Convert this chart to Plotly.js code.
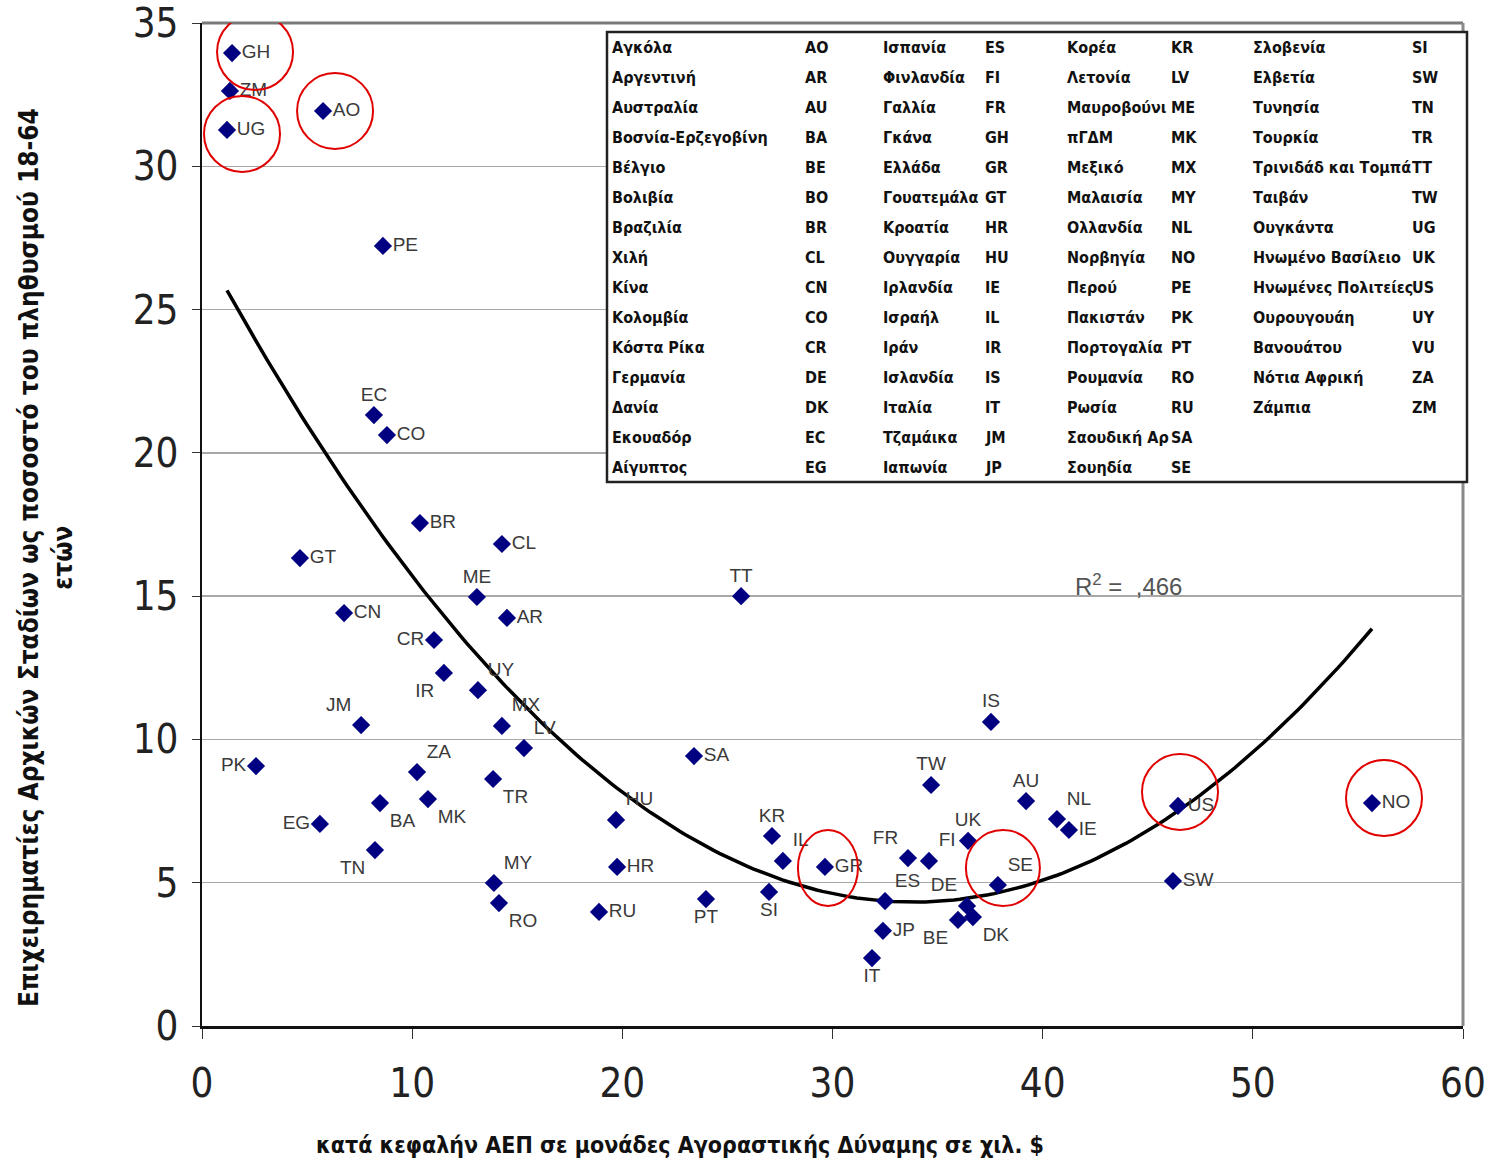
<!DOCTYPE html>
<html>
<head>
<meta charset="utf-8">
<script src="https://cdn.plot.ly/plotly-3.0.1.min.js"></script>
<style>html,body{margin:0;padding:0;background:#fff}#chart{width:1493px;height:1160px}</style>
</head>
<body>
<div id="chart"></div>
<script>
// ---------------- DATA ----------------
const countryCodes = ['GH','ZM','UG','AO','PE','EC','CO','BR','CL','GT','ME','CN','AR','CR','IR','UY','MX','LV','JM','PK','ZA','MK','TR','BA','EG','TN','MY','RO','HU','HR','RU','SA','TT','PT','KR','IL','SI','GR','ES','JP','IT','FR','FI','TW','UK','DE','BE','DK','IS','SE','AU','NL','IE','US','SW','NO'];
const gdpPerCapita = [1.43,1.33,1.19,5.76,8.61,8.18,8.80,10.37,14.27,4.66,13.08,6.76,14.51,11.04,11.51,13.13,14.27,15.32,7.57,2.57,10.23,10.75,13.85,8.47,5.61,8.23,13.89,14.13,19.70,19.75,18.89,23.41,25.65,23.98,27.12,27.64,26.98,29.64,32.50,32.40,31.88,33.59,34.59,34.69,36.45,36.40,35.97,36.68,37.54,37.87,39.21,40.68,41.25,46.44,46.20,55.67];
const earlyStageRate = [33.95,32.63,31.27,31.93,27.22,21.32,20.62,17.55,16.82,16.33,14.97,14.41,14.24,13.47,12.32,11.72,10.47,9.70,10.50,9.07,8.86,7.92,8.62,7.78,7.05,6.14,4.99,4.29,7.19,5.55,3.98,9.42,15.00,4.43,6.63,5.76,4.68,5.55,4.36,3.32,2.37,5.86,5.76,8.41,6.46,4.19,3.70,3.80,10.61,4.92,7.85,7.22,6.84,7.68,5.06,7.78];
const highlightedCodes = ['GH','UG','AO','GR','SE','US','NO'];
// quadratic trend y = a + b*x + c*x^2, coefficients
const trendCoefficients = [27.25, -1.355, 0.02002];
const xTickValues = [0,10,20,30,40,50,60];
const yTickValues = [0,5,10,15,20,25,30,35];
const tableNames = [
 'Αγκόλα','Αργεντινή','Αυστραλία','Βοσνία-Ερζεγοβίνη','Βέλγιο','Βολιβία','Βραζιλία','Χιλή','Κίνα','Κολομβία','Κόστα Ρίκα','Γερμανία','Δανία','Εκουαδόρ','Αίγυπτος',
 'Ισπανία','Φινλανδία','Γαλλία','Γκάνα','Ελλάδα','Γουατεμάλα','Κροατία','Ουγγαρία','Ιρλανδία','Ισραήλ','Ιράν','Ισλανδία','Ιταλία','Τζαμάικα','Ιαπωνία',
 'Κορέα','Λετονία','Μαυροβούνι','πΓΔΜ','Μεξικό','Μαλαισία','Ολλανδία','Νορβηγία','Περού','Πακιστάν','Πορτογαλία','Ρουμανία','Ρωσία','Σαουδική Αρ','Σουηδία',
 'Σλοβενία','Ελβετία','Τυνησία','Τουρκία','Τρινιδάδ και Τομπά','Ταιβάν','Ουγκάντα','Ηνωμένο Βασίλειο','Ηνωμένες Πολιτείες','Ουρουγουάη','Βανουάτου','Νότια Αφρική','Ζάμπια'];
const tableCodes = [
 'AO','AR','AU','BA','BE','BO','BR','CL','CN','CO','CR','DE','DK','EC','EG',
 'ES','FI','FR','GH','GR','GT','HR','HU','IE','IL','IR','IS','IT','JM','JP',
 'KR','LV','ME','MK','MX','MY','NL','NO','PE','PK','PT','RO','RU','SA','SE',
 'SI','SW','TN','TR','TT','TW','UG','UK','US','UY','VU','ZA','ZM'];
const xTitleText = 'κατά κεφαλήν ΑΕΠ σε μονάδες Αγοραστικής Δύναμης σε χιλ. $';
const yTitleText = 'Επιχειρηματίες Αρχικών Σταδίων ως ποσοστό του πληθυσμού 18-64<br>ετών';
const r2Text = 'R<sup>2</sup> =  ,466';

// ---------------- STYLE / POSITIONS ----------------
const labelPositions = ['middle right','middle right','middle right','middle right','middle right','top center','middle right','middle right','middle right','middle right','top center','middle right','middle right','middle left','bottom left','top right','top right','top right','top left','middle left','top right','bottom right','bottom right','bottom right','middle left','bottom left','top right','bottom right','top right','middle right','middle right','middle right','top center','bottom center','top center','top right','bottom center','middle right','top right','middle right','bottom center','top left','top right','top center','top center','top left','bottom left','bottom right','top center','top right','top center','top right','middle right','middle right','middle right','middle right'];
// [dx right px, dy down px, rx, ry]
const circleGeom = {GH:[23,-1,38,38],UG:[15,4,38,38],AO:[12,0,38,38],GR:[3,1,30,38],SE:[5,-17,37,38],US:[2,-14,38,38],NO:[12,-5,38,38]};
const NARROW = '"Liberation Sans Narrow","Arial Narrow","DejaVu Sans Condensed",sans-serif';
const SANS = '"Liberation Sans",Arial,sans-serif';

// plot-area pixel geometry
const W = 1493, H = 1160, ML = 202, MR = 30, MT = 23, MB = 134;
const PW = W - ML - MR, PH = H - MT - MB;
const px2paperX = p => (p - ML) / PW;
const px2paperY = p => (H - MB - p) / PH;

// ---------------- TREND CURVE ----------------
const xMin = Math.min(...gdpPerCapita), xMax = Math.max(...gdpPerCapita);
const fitX = [], fitY = [];
for (let i = 0; i <= 200; i++) {
  const x = xMin + (xMax - xMin) * i / 200;
  fitX.push(x); fitY.push(trendCoefficients[0] + trendCoefficients[1] * x + trendCoefficients[2] * x * x);
}

// ---------------- TRACES ----------------
const fitTrace = {x: fitX, y: fitY, mode: 'lines', line: {color: '#000', width: 3.5}, hoverinfo: 'skip', showlegend: false};
const pointsTrace = {
  x: gdpPerCapita, y: earlyStageRate, text: countryCodes, mode: 'markers+text',
  textposition: labelPositions,
  textfont: {family: SANS, size: 19, color: '#3a3a3a'},
  marker: {symbol: 'diamond', size: 14, color: '#000080', line: {width: 0}},
  showlegend: false
};

// ---------------- ANNOTATIONS ----------------
const annotations = [];
const nameColX = [610, 881, 1065, 1251];
const codeColX = [803, 983, 1169, 1410];
const rowsPerCol = 15, row0 = 48, rowPitch = 29.93;
const tableFont = {family: NARROW, size: 16, color: '#111', weight: 'bold'};
tableNames.forEach((name, i) => {
  const col = Math.floor(i / rowsPerCol), row = i % rowsPerCol;
  const yp = px2paperY(row0 + row * rowPitch);
  annotations.push({xref: 'paper', yref: 'paper', x: px2paperX(nameColX[col]), y: yp, xanchor: 'left', yanchor: 'middle', showarrow: false, text: name, font: tableFont});
  annotations.push({xref: 'paper', yref: 'paper', x: px2paperX(codeColX[col]), y: yp, xanchor: 'left', yanchor: 'middle', showarrow: false, text: tableCodes[i], font: tableFont});
});
annotations.push({xref: 'paper', yref: 'paper', x: px2paperX(1073), y: px2paperY(585), xanchor: 'left', yanchor: 'middle', showarrow: false, text: r2Text, font: {family: SANS, size: 24, color: '#555'}});
annotations.push({xref: 'paper', yref: 'paper', x: px2paperX(680), y: px2paperY(1145), xanchor: 'center', yanchor: 'middle', showarrow: false, text: xTitleText, font: {family: NARROW, size: 23, color: '#111', weight: 'bold'}});
annotations.push({xref: 'paper', yref: 'paper', x: px2paperX(46), y: px2paperY(558), xanchor: 'center', yanchor: 'middle', textangle: -90, showarrow: false, text: yTitleText, font: {family: NARROW, size: 26, color: '#111', weight: 'bold'}});

// ---------------- SHAPES ----------------
const shapes = [];
shapes.push({type: 'rect', xref: 'paper', yref: 'paper', x0: px2paperX(607), x1: px2paperX(1467), y0: px2paperY(482), y1: px2paperY(32), fillcolor: '#fff', line: {color: '#222', width: 2.5}, layer: 'above'});
shapes.push({type: 'line', xref: 'paper', yref: 'paper', x0: 0, x1: 1, y0: 1, y1: 1, line: {color: '#7a7a7a', width: 3}, layer: 'below'});
shapes.push({type: 'line', xref: 'paper', yref: 'paper', x0: 1, x1: 1, y0: 0, y1: 1, line: {color: '#8a8a8a', width: 3}, layer: 'below'});
highlightedCodes.forEach(code => {
  const i = countryCodes.indexOf(code);
  const g = circleGeom[code];
  shapes.push({type: 'circle', xref: 'x', yref: 'y', xsizemode: 'pixel', ysizemode: 'pixel',
    xanchor: gdpPerCapita[i], yanchor: earlyStageRate[i],
    x0: g[0] - g[2], x1: g[0] + g[2], y0: -g[1] - g[3], y1: -g[1] + g[3],
    line: {color: '#e00000', width: 2}, layer: 'above'});
});

// ---------------- LAYOUT ----------------
const layout = {
  width: W, height: H,
  margin: {l: ML, r: MR, t: MT, b: MB, pad: 0},
  paper_bgcolor: '#fff', plot_bgcolor: '#fff',
  font: {family: NARROW, color: '#222'},
  xaxis: {range: [0, 60], tickvals: xTickValues, ticktext: xTickValues.map(String), showgrid: false, zeroline: false,
    showline: true, linecolor: '#111', linewidth: 3, ticks: 'outside', ticklen: 10, tickcolor: '#333', tickwidth: 1,
    tickfont: {family: NARROW, size: 40, color: '#222'}, ticklabelstandoff: 10, fixedrange: true},
  yaxis: {range: [0, 35], tickvals: yTickValues, ticktext: yTickValues.map(String), showgrid: true, gridcolor: '#a8a8a8', gridwidth: 1.5,
    zeroline: false, showline: true, linecolor: '#111', linewidth: 2.5, ticks: 'outside', ticklen: 8, tickcolor: '#333', tickwidth: 1,
    tickfont: {family: NARROW, size: 40, color: '#222'}, ticklabelstandoff: 5, fixedrange: true},
  annotations: annotations,
  shapes: shapes,
  showlegend: false
};

Plotly.newPlot('chart', [fitTrace, pointsTrace], layout, {displayModeBar: false, staticPlot: true});
</script>
</body>
</html>
